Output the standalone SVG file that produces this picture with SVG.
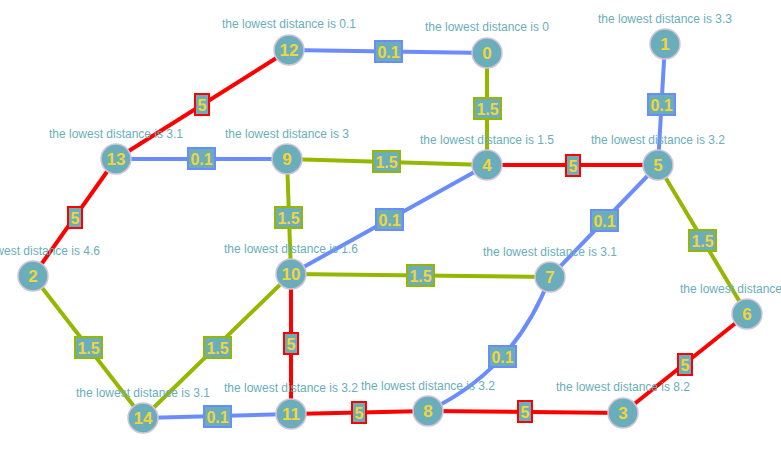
<svg xmlns="http://www.w3.org/2000/svg" width="781" height="464" viewBox="0 0 781 464">
<style>
.e{fill:none;stroke-width:4}
.r{stroke:#ff0000}
.b{stroke:#6b8cff}
.g{stroke:#94b800}
.lb{fill:#6aaebb;stroke-width:2}
.lt{font-family:"Liberation Sans",Arial,sans-serif;font-weight:bold;font-size:16px;fill:#f2d43b;text-anchor:middle}
.n circle{fill:#6aaebb;stroke:#d6c2d6;stroke-width:1.5}
.nt{font-family:"Liberation Sans",Arial,sans-serif;font-weight:bold;font-size:17px;fill:#f2d43b;text-anchor:middle}
.dl{font-family:"Liberation Sans",Arial,sans-serif;font-size:12px;fill:#6aaebb;text-anchor:middle}
</style>
<rect width="781" height="464" fill="#ffffff"/>
<g id="connectors">
<line class="e b" x1="289" y1="50" x2="487" y2="53"/>
<line class="e r" x1="289" y1="50" x2="116" y2="159"/>
<line class="e g" x1="487" y1="53" x2="487" y2="165"/>
<line class="e b" x1="665" y1="44" x2="658" y2="165"/>
<line class="e b" x1="116" y1="159" x2="287" y2="159"/>
<line class="e g" x1="287" y1="159" x2="487" y2="165"/>
<line class="e r" x1="487" y1="165" x2="658" y2="165"/>
<line class="e r" x1="116" y1="159" x2="33" y2="276"/>
<line class="e g" x1="287" y1="159" x2="291" y2="274"/>
<line class="e b" x1="291" y1="274" x2="487" y2="165"/>
<line class="e b" x1="658" y1="165" x2="550" y2="277"/>
<line class="e g" x1="658" y1="165" x2="747" y2="314"/>
<line class="e g" x1="291" y1="274" x2="550" y2="277"/>
<line class="e g" x1="33" y1="276" x2="143" y2="418"/>
<line class="e g" x1="291" y1="274" x2="143" y2="418"/>
<line class="e r" x1="291" y1="274" x2="291" y2="414"/>
<line class="e b" x1="143" y1="418" x2="291" y2="414"/>
<line class="e r" x1="291" y1="414" x2="428" y2="411"/>
<line class="e r" x1="428" y1="411" x2="623" y2="413"/>
<path class="e b" d="M428,411 Q515,370 550,277"/>
<line class="e r" x1="623" y1="413" x2="747" y2="314"/>
<rect class="lb b" x="375" y="41" width="27" height="21"/><text class="lt" x="388.5" y="57.5">0.1</text>
<rect class="lb r" x="195" y="94" width="14" height="21"/><text class="lt" x="202" y="110.5">5</text>
<rect class="lb g" x="474" y="98" width="27" height="21"/><text class="lt" x="487.5" y="114.5">1.5</text>
<rect class="lb b" x="648" y="94" width="27" height="21"/><text class="lt" x="661.5" y="110.5">0.1</text>
<rect class="lb b" x="188" y="148" width="27" height="21"/><text class="lt" x="201.5" y="164.5">0.1</text>
<rect class="lb g" x="373" y="151" width="27" height="21"/><text class="lt" x="386.5" y="167.5">1.5</text>
<rect class="lb r" x="566" y="155" width="14" height="21"/><text class="lt" x="573" y="171.5">5</text>
<rect class="lb r" x="68" y="207" width="14" height="21"/><text class="lt" x="75" y="223.5">5</text>
<rect class="lb g" x="275" y="207" width="27" height="21"/><text class="lt" x="288.5" y="223.5">1.5</text>
<rect class="lb b" x="376" y="209" width="27" height="21"/><text class="lt" x="389.5" y="225.5">0.1</text>
<rect class="lb b" x="591" y="210" width="27" height="21"/><text class="lt" x="604.5" y="226.5">0.1</text>
<rect class="lb g" x="689" y="230" width="27" height="21"/><text class="lt" x="702.5" y="246.5">1.5</text>
<rect class="lb g" x="407" y="265" width="27" height="21"/><text class="lt" x="420.5" y="281.5">1.5</text>
<rect class="lb g" x="75" y="337" width="27" height="21"/><text class="lt" x="88.5" y="353.5">1.5</text>
<rect class="lb g" x="204" y="337" width="27" height="21"/><text class="lt" x="217.5" y="353.5">1.5</text>
<rect class="lb r" x="284" y="333" width="14" height="21"/><text class="lt" x="291" y="349.5">5</text>
<rect class="lb b" x="204" y="406" width="27" height="21"/><text class="lt" x="217.5" y="422.5">0.1</text>
<rect class="lb r" x="352" y="402" width="14" height="21"/><text class="lt" x="359" y="418.5">5</text>
<rect class="lb r" x="518" y="401" width="14" height="21"/><text class="lt" x="525" y="417.5">5</text>
<rect class="lb b" x="489" y="346" width="27" height="21"/><text class="lt" x="502.5" y="362.5">0.1</text>
<rect class="lb r" x="678" y="354" width="14" height="21"/><text class="lt" x="685" y="370.5">5</text>
</g>
<g id="node-12" class="n"><text class="dl" x="289" y="28">the lowest distance is 0.1</text><circle cx="289" cy="50" r="15"/><text class="nt" x="289" y="56">12</text></g>
<g id="node-0" class="n"><text class="dl" x="487" y="31">the lowest distance is 0</text><circle cx="487" cy="53" r="15"/><text class="nt" x="487" y="59">0</text></g>
<g id="node-1" class="n"><text class="dl" x="665" y="23">the lowest distance is 3.3</text><circle cx="665" cy="44" r="15"/><text class="nt" x="665" y="50">1</text></g>
<g id="node-13" class="n"><text class="dl" x="116" y="138">the lowest distance is 3.1</text><circle cx="116" cy="159" r="15"/><text class="nt" x="116" y="165">13</text></g>
<g id="node-9" class="n"><text class="dl" x="287" y="138">the lowest distance is 3</text><circle cx="287" cy="159" r="15"/><text class="nt" x="287" y="165">9</text></g>
<g id="node-4" class="n"><text class="dl" x="487" y="144">the lowest distance is 1.5</text><circle cx="487" cy="165" r="15"/><text class="nt" x="487" y="171">4</text></g>
<g id="node-5" class="n"><text class="dl" x="658" y="144">the lowest distance is 3.2</text><circle cx="658" cy="165" r="15"/><text class="nt" x="658" y="171">5</text></g>
<g id="node-2" class="n"><text class="dl" x="33" y="255">the lowest distance is 4.6</text><circle cx="33" cy="276" r="15"/><text class="nt" x="33" y="282">2</text></g>
<g id="node-10" class="n"><text class="dl" x="291" y="253">the lowest distance is 1.6</text><circle cx="291" cy="274" r="15"/><text class="nt" x="291" y="280">10</text></g>
<g id="node-7" class="n"><text class="dl" x="550" y="256">the lowest distance is 3.1</text><circle cx="550" cy="277" r="15"/><text class="nt" x="550" y="283">7</text></g>
<g id="node-6" class="n"><text class="dl" x="747" y="293">the lowest distance is 4.7</text><circle cx="747" cy="314" r="15"/><text class="nt" x="747" y="320">6</text></g>
<g id="node-14" class="n"><text class="dl" x="143" y="397">the lowest distance is 3.1</text><circle cx="143" cy="418" r="15"/><text class="nt" x="143" y="424">14</text></g>
<g id="node-11" class="n"><text class="dl" x="291" y="392">the lowest distance is 3.2</text><circle cx="291" cy="414" r="15"/><text class="nt" x="291" y="420">11</text></g>
<g id="node-8" class="n"><text class="dl" x="428" y="390">the lowest distance is 3.2</text><circle cx="428" cy="411" r="15"/><text class="nt" x="428" y="417">8</text></g>
<g id="node-3" class="n"><text class="dl" x="623" y="391">the lowest distance is 8.2</text><circle cx="623" cy="413" r="15"/><text class="nt" x="623" y="419">3</text></g>
</svg>
